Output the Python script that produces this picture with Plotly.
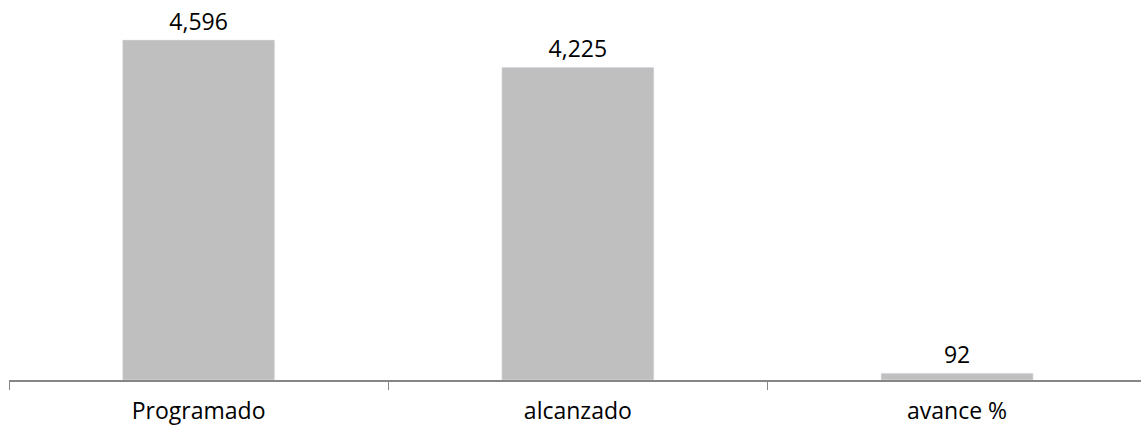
import plotly.graph_objects as go

categorias = ["Programado", "alcanzado", "avance %"]
valores = [4596, 4225, 92]

fig = go.Figure()
fig.add_trace(go.Bar(x=categorias, y=valores, marker=dict(color="#bfbfbf"), width=0.401,
                     text=valores, texttemplate="%{y:,}", textposition="outside",
                     textfont=dict(color="black", size=23), cliponaxis=False))
fig.update_layout(width=1141, height=430, paper_bgcolor="white", plot_bgcolor="white",
                  font_family="Open Sans", font_color="black", showlegend=False,
                  margin=dict(l=9, r=0, t=10, b=50))
fig.update_xaxes(showline=True, linecolor="#868686", linewidth=1.5, ticks="outside", tickson="boundaries",
                 ticklen=8, tickcolor="#868686", tickfont=dict(size=23, color="black"), showgrid=False,
                 ticklabelstandoff=10, range=[-0.5, 2.485])
fig.update_yaxes(visible=False, range=[0, 5000])
fig.write_html("out.html", config={"displayModeBar": False},
               post_script="document.body.style.margin='0';")
